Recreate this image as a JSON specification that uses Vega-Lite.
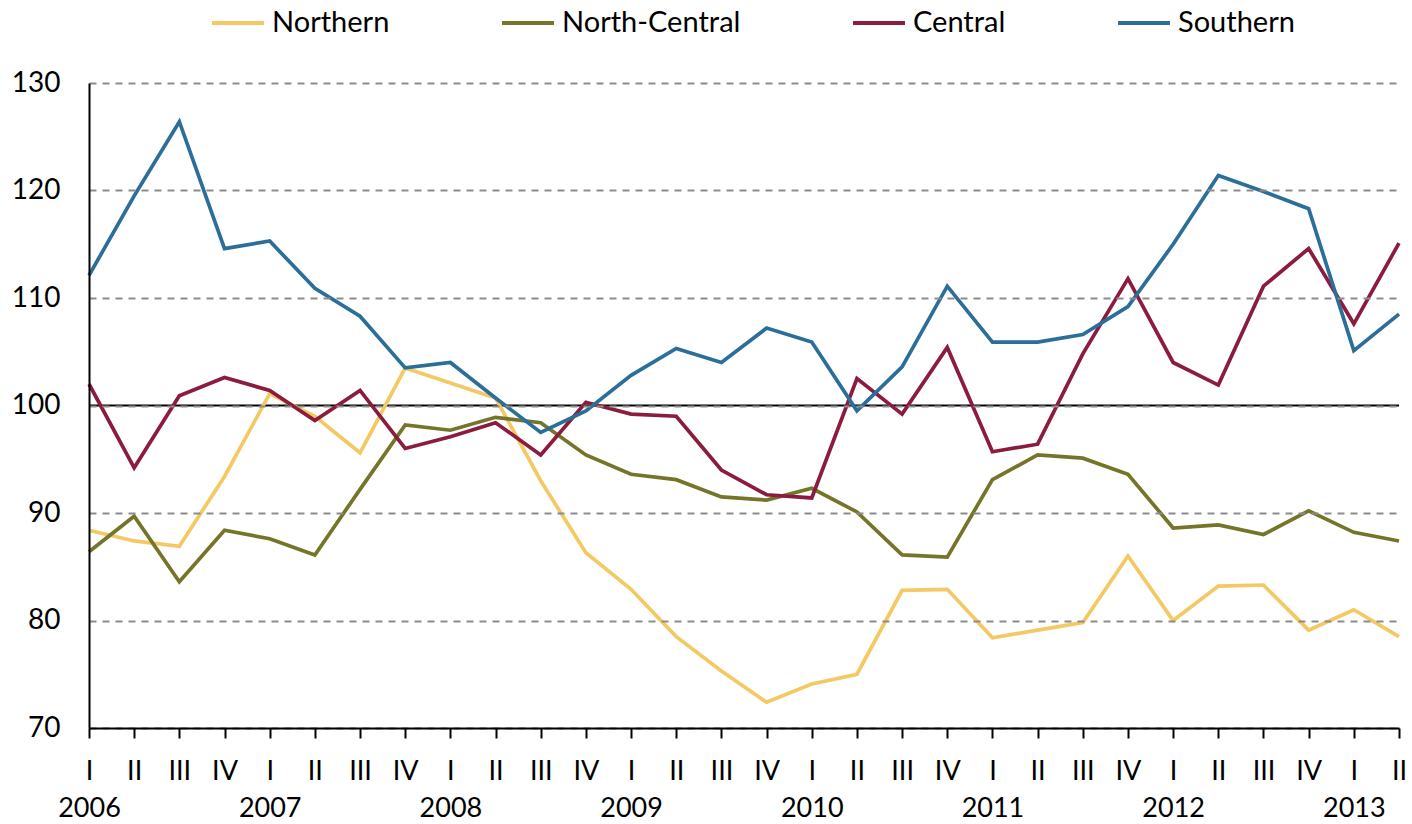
{
  "$schema": "https://vega.github.io/schema/vega-lite/v6.json",
  "width": 1310,
  "height": 645,
  "autosize": {"type": "none"},
  "padding": {"left": 89, "top": 83, "right": 13, "bottom": 96},
  "background": "white",
  "config": {"font": "Lato", "view": {"stroke": null}},
  "datasets": {
    "series": [
      {"period": "2006-I", "region": "Northern", "value": 88.4},
      {"period": "2006-II", "region": "Northern", "value": 87.4},
      {"period": "2006-III", "region": "Northern", "value": 86.9},
      {"period": "2006-IV", "region": "Northern", "value": 93.4},
      {"period": "2007-I", "region": "Northern", "value": 101.1},
      {"period": "2007-II", "region": "Northern", "value": 99.0},
      {"period": "2007-III", "region": "Northern", "value": 95.6},
      {"period": "2007-IV", "region": "Northern", "value": 103.5},
      {"period": "2008-I", "region": "Northern", "value": 102.1},
      {"period": "2008-II", "region": "Northern", "value": 100.7},
      {"period": "2008-III", "region": "Northern", "value": 93.0},
      {"period": "2008-IV", "region": "Northern", "value": 86.3},
      {"period": "2009-I", "region": "Northern", "value": 82.9},
      {"period": "2009-II", "region": "Northern", "value": 78.5},
      {"period": "2009-III", "region": "Northern", "value": 75.3},
      {"period": "2009-IV", "region": "Northern", "value": 72.4},
      {"period": "2010-I", "region": "Northern", "value": 74.1},
      {"period": "2010-II", "region": "Northern", "value": 75.0},
      {"period": "2010-III", "region": "Northern", "value": 82.8},
      {"period": "2010-IV", "region": "Northern", "value": 82.9},
      {"period": "2011-I", "region": "Northern", "value": 78.4},
      {"period": "2011-II", "region": "Northern", "value": 79.1},
      {"period": "2011-III", "region": "Northern", "value": 79.8},
      {"period": "2011-IV", "region": "Northern", "value": 86.0},
      {"period": "2012-I", "region": "Northern", "value": 80.0},
      {"period": "2012-II", "region": "Northern", "value": 83.2},
      {"period": "2012-III", "region": "Northern", "value": 83.3},
      {"period": "2012-IV", "region": "Northern", "value": 79.1},
      {"period": "2013-I", "region": "Northern", "value": 81.0},
      {"period": "2013-II", "region": "Northern", "value": 78.5},

      {"period": "2006-I", "region": "North-Central", "value": 86.4},
      {"period": "2006-II", "region": "North-Central", "value": 89.7},
      {"period": "2006-III", "region": "North-Central", "value": 83.6},
      {"period": "2006-IV", "region": "North-Central", "value": 88.4},
      {"period": "2007-I", "region": "North-Central", "value": 87.6},
      {"period": "2007-II", "region": "North-Central", "value": 86.1},
      {"period": "2007-III", "region": "North-Central", "value": 92.2},
      {"period": "2007-IV", "region": "North-Central", "value": 98.2},
      {"period": "2008-I", "region": "North-Central", "value": 97.7},
      {"period": "2008-II", "region": "North-Central", "value": 98.9},
      {"period": "2008-III", "region": "North-Central", "value": 98.4},
      {"period": "2008-IV", "region": "North-Central", "value": 95.4},
      {"period": "2009-I", "region": "North-Central", "value": 93.6},
      {"period": "2009-II", "region": "North-Central", "value": 93.1},
      {"period": "2009-III", "region": "North-Central", "value": 91.5},
      {"period": "2009-IV", "region": "North-Central", "value": 91.2},
      {"period": "2010-I", "region": "North-Central", "value": 92.3},
      {"period": "2010-II", "region": "North-Central", "value": 90.1},
      {"period": "2010-III", "region": "North-Central", "value": 86.1},
      {"period": "2010-IV", "region": "North-Central", "value": 85.9},
      {"period": "2011-I", "region": "North-Central", "value": 93.1},
      {"period": "2011-II", "region": "North-Central", "value": 95.4},
      {"period": "2011-III", "region": "North-Central", "value": 95.1},
      {"period": "2011-IV", "region": "North-Central", "value": 93.6},
      {"period": "2012-I", "region": "North-Central", "value": 88.6},
      {"period": "2012-II", "region": "North-Central", "value": 88.9},
      {"period": "2012-III", "region": "North-Central", "value": 88.0},
      {"period": "2012-IV", "region": "North-Central", "value": 90.2},
      {"period": "2013-I", "region": "North-Central", "value": 88.2},
      {"period": "2013-II", "region": "North-Central", "value": 87.4},

      {"period": "2006-I", "region": "Central", "value": 102.0},
      {"period": "2006-II", "region": "Central", "value": 94.2},
      {"period": "2006-III", "region": "Central", "value": 100.9},
      {"period": "2006-IV", "region": "Central", "value": 102.6},
      {"period": "2007-I", "region": "Central", "value": 101.4},
      {"period": "2007-II", "region": "Central", "value": 98.6},
      {"period": "2007-III", "region": "Central", "value": 101.4},
      {"period": "2007-IV", "region": "Central", "value": 96.0},
      {"period": "2008-I", "region": "Central", "value": 97.1},
      {"period": "2008-II", "region": "Central", "value": 98.4},
      {"period": "2008-III", "region": "Central", "value": 95.4},
      {"period": "2008-IV", "region": "Central", "value": 100.3},
      {"period": "2009-I", "region": "Central", "value": 99.2},
      {"period": "2009-II", "region": "Central", "value": 99.0},
      {"period": "2009-III", "region": "Central", "value": 94.0},
      {"period": "2009-IV", "region": "Central", "value": 91.7},
      {"period": "2010-I", "region": "Central", "value": 91.4},
      {"period": "2010-II", "region": "Central", "value": 102.5},
      {"period": "2010-III", "region": "Central", "value": 99.2},
      {"period": "2010-IV", "region": "Central", "value": 105.4},
      {"period": "2011-I", "region": "Central", "value": 95.7},
      {"period": "2011-II", "region": "Central", "value": 96.4},
      {"period": "2011-III", "region": "Central", "value": 104.8},
      {"period": "2011-IV", "region": "Central", "value": 111.8},
      {"period": "2012-I", "region": "Central", "value": 104.0},
      {"period": "2012-II", "region": "Central", "value": 101.9},
      {"period": "2012-III", "region": "Central", "value": 111.1},
      {"period": "2012-IV", "region": "Central", "value": 114.6},
      {"period": "2013-I", "region": "Central", "value": 107.6},
      {"period": "2013-II", "region": "Central", "value": 115.1},

      {"period": "2006-I", "region": "Southern", "value": 112.1},
      {"period": "2006-II", "region": "Southern", "value": 119.5},
      {"period": "2006-III", "region": "Southern", "value": 126.4},
      {"period": "2006-IV", "region": "Southern", "value": 114.6},
      {"period": "2007-I", "region": "Southern", "value": 115.3},
      {"period": "2007-II", "region": "Southern", "value": 110.9},
      {"period": "2007-III", "region": "Southern", "value": 108.3},
      {"period": "2007-IV", "region": "Southern", "value": 103.5},
      {"period": "2008-I", "region": "Southern", "value": 104.0},
      {"period": "2008-II", "region": "Southern", "value": 100.7},
      {"period": "2008-III", "region": "Southern", "value": 97.5},
      {"period": "2008-IV", "region": "Southern", "value": 99.5},
      {"period": "2009-I", "region": "Southern", "value": 102.8},
      {"period": "2009-II", "region": "Southern", "value": 105.3},
      {"period": "2009-III", "region": "Southern", "value": 104.0},
      {"period": "2009-IV", "region": "Southern", "value": 107.2},
      {"period": "2010-I", "region": "Southern", "value": 105.9},
      {"period": "2010-II", "region": "Southern", "value": 99.5},
      {"period": "2010-III", "region": "Southern", "value": 103.6},
      {"period": "2010-IV", "region": "Southern", "value": 111.1},
      {"period": "2011-I", "region": "Southern", "value": 105.9},
      {"period": "2011-II", "region": "Southern", "value": 105.9},
      {"period": "2011-III", "region": "Southern", "value": 106.6},
      {"period": "2011-IV", "region": "Southern", "value": 109.2},
      {"period": "2012-I", "region": "Southern", "value": 115.0},
      {"period": "2012-II", "region": "Southern", "value": 121.4},
      {"period": "2012-III", "region": "Southern", "value": 119.9},
      {"period": "2012-IV", "region": "Southern", "value": 118.3},
      {"period": "2013-I", "region": "Southern", "value": 105.1},
      {"period": "2013-II", "region": "Southern", "value": 108.5}
    ],
    "reference": [{"ref": 100}]
  },
  "layer": [
    {
      "data": {"name": "reference"},
      "mark": {"type": "rule", "color": "black", "strokeWidth": 2},
      "encoding": {
        "y": {"field": "ref", "type": "quantitative"}
      }
    },
    {
      "data": {"name": "series"},
      "mark": {"type": "line", "strokeWidth": 3.7, "strokeJoin": "miter", "interpolate": "linear"},
      "encoding": {
        "x": {
          "field": "period",
          "type": "ordinal",
          "sort": null,
          "scale": {"type": "point", "padding": 0},
          "axis": {
            "title": null,
            "labelAngle": 0,
            "labelExpr": "[split(datum.value, '-')[1], split(datum.value, '-')[1] == 'I' ? split(datum.value, '-')[0] : '']",
            "labelFontSize": 27,
            "labelColor": "black",
            "labelLineHeight": 37,
            "labelPadding": 20,
            "labelOverlap": false,
            "labelBound": false,
            "labelFlush": false,
            "tickSize": 10,
            "tickColor": "black",
            "tickWidth": 2,
            "domainColor": "black",
            "domainWidth": 2,
            "grid": false,
            "zindex": 1
          }
        },
        "y": {
          "field": "value",
          "type": "quantitative",
          "scale": {"domain": [70, 130], "nice": false, "zero": false},
          "axis": {
            "title": null,
            "values": [70, 80, 90, 100, 110, 120, 130],
            "labelFontSize": 28,
            "labelColor": "black",
            "labelPadding": 29,
            "ticks": false,
            "domainColor": "black",
            "domainWidth": 2,
            "grid": true,
            "gridColor": "#8c8c8c",
            "gridDash": [7, 6],
            "gridWidth": 2,
            "zindex": 1
          }
        },
        "color": {
          "field": "region",
          "type": "nominal",
          "scale": {
            "domain": ["Northern", "North-Central", "Central", "Southern"],
            "range": ["#F4C964", "#75752A", "#8C1C3D", "#2C6E9A"]
          },
          "legend": {
            "orient": "none",
            "legendX": 121,
            "legendY": -88,
            "direction": "horizontal",
            "title": null,
            "padding": 0,
            "symbolType": "stroke",
            "symbolSize": 2700,
            "symbolStrokeWidth": 4,
            "labelFontSize": 29,
            "labelLimit": 0,
            "labelColor": "black",
            "labelOffset": 6,
            "columnPadding": 104
          }
        }
      }
    }
  ]
}
